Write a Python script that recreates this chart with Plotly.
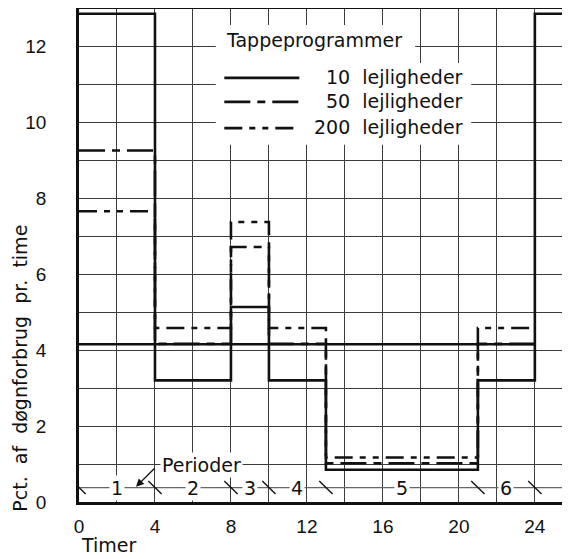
import plotly.graph_objects as go

# ---- data ----
period_bounds = [0, 4, 8, 10, 13, 21, 24]
period_labels = ["1", "2", "3", "4", "5", "6"]
vals_10 = [12.85, 3.2, 5.13, 3.2, 0.85, 3.2]
vals_50 = [9.25, 4.16, 6.71, 4.16, 1.02, 4.16]
vals_200 = [7.65, 4.58, 7.37, 4.58, 1.17, 4.58]
next_day_10 = 12.85          # level after hour 24 (start of next day)
mean_level = 4.15            # horizontal reference line across the day
series_names = ["10 lejligheder", "50 lejligheder", "200 lejligheder"]
x_ticks = [0, 4, 8, 12, 16, 20, 24]
y_ticks = [0, 2, 4, 6, 8, 10, 12]

X_MAX = 25.85
Y_MAX = 13.0
INK = "#111111"
GRID = "#3c3c3c"
TXT = "DejaVu Sans"
NUM = "Liberation Sans"
DASH = {
    "10 lejligheder": "solid",
    "50 lejligheder": "26px,7px,8px,7px",
    "200 lejligheder": "18px,7px,6px,7px,6px,7px",
}

fig = go.Figure()

def step_xy(vals, extra=None):
    xs = list(period_bounds)
    ys = list(vals) + [vals[-1]]
    if extra is not None:
        ys[-1] = extra
        xs = xs + [X_MAX]
        ys = ys + [extra]
    return xs, ys

# mean line
fig.add_trace(go.Scatter(x=[period_bounds[0], period_bounds[-1]], y=[mean_level, mean_level],
                         mode="lines", line=dict(color=INK, width=2.4), showlegend=False,
                         hoverinfo="skip"))

for name, vals in [(series_names[2], vals_200), (series_names[1], vals_50)]:
    xs, ys = step_xy(vals)
    fig.add_trace(go.Scatter(x=xs, y=ys, mode="lines", line_shape="hv", name=name,
                             line=dict(color=INK, width=2.6, dash=DASH[name]), showlegend=False))

xs, ys = step_xy(vals_10, extra=next_day_10)
fig.add_trace(go.Scatter(x=xs, y=ys, mode="lines", line_shape="hv", name=series_names[0],
                         line=dict(color=INK, width=2.6), showlegend=False))

shapes = []
annotations = []

# legend white box (covers gridlines)
shapes.append(dict(type="rect", xref="x", yref="y", x0=7.2, x1=17.7, y0=11.5, y1=12.55,
                   fillcolor="white", line=dict(width=0), layer="between"))
shapes.append(dict(type="rect", xref="x", yref="y", x0=7.2, x1=20.65, y0=9.4, y1=11.55,
                   fillcolor="white", line=dict(width=0), layer="between"))

annotations.append(dict(x=12.35, y=12.16, xref="x", yref="y", text="Tappeprogrammer",
                        showarrow=False, font=dict(family=TXT, size=19, color=INK)))
leg_y = [11.16, 10.53, 9.84]
for name, ly in zip(series_names, leg_y):
    shapes.append(dict(type="line", xref="x", yref="y", x0=7.65, x1=11.6, y0=ly, y1=ly,
                       line=dict(color=INK, width=2.6, dash=DASH[name]), layer="above"))
    num, word = name.split(" ")
    annotations.append(dict(x=20.3, y=ly + 0.02, xref="x", yref="y", xanchor="right",
                            text=num + "\u00a0 " + word, showarrow=False,
                            font=dict(family=TXT, size=19, color=INK)))

# period band
band_y = 0.38
shapes.append(dict(type="line", xref="x", yref="y", x0=0, x1=X_MAX, y0=band_y, y1=band_y,
                   line=dict(color="#666666", width=1.2), layer="between"))
for b in period_bounds:
    shapes.append(dict(type="line", xref="x", yref="y", x0=b - 0.35, x1=b + 0.35,
                       y0=band_y + 0.17, y1=band_y - 0.17,
                       line=dict(color=INK, width=1.4), layer="above"))
for i, lab in enumerate(period_labels):
    cx = (period_bounds[i] + period_bounds[i + 1]) / 2
    annotations.append(dict(x=cx, y=band_y, xref="x", yref="y", text=lab, showarrow=False,
                            bgcolor="white", borderpad=1,
                            font=dict(family=TXT, size=19, color=INK)))

annotations.append(dict(x=6.45, y=0.98, xref="x", yref="y", text="Perioder", showarrow=False,
                        bgcolor="white", borderpad=1,
                        font=dict(family=TXT, size=19, color=INK)))
annotations.append(dict(x=3.0, y=0.4, ax=4.05, ay=0.92, xref="x", yref="y", axref="x", ayref="y",
                        text="", showarrow=True, arrowhead=2, arrowsize=1.2, arrowwidth=1.3,
                        arrowcolor=INK))

# axis titles
annotations.append(dict(x=0, y=-0.1134, xref="paper", yref="paper", xanchor="left", yanchor="bottom",
                        text="Timer", showarrow=False, font=dict(family=TXT, size=19, color=INK)))
annotations.append(dict(x=-0.12, y=0.27, xref="paper", yref="paper", xanchor="center",
                        yanchor="middle", textangle=-90,
                        text="Pct.\u00a0 af\u00a0 døgnforbrug\u00a0 pr.\u00a0 time", showarrow=False,
                        font=dict(family=TXT, size=19, color=INK)))

# the page body has an 8px default margin, so the figure is 8px smaller than the window
fig.update_layout(
    width=562, height=551,
    margin=dict(l=71, r=0, t=0, b=57, autoexpand=False),
    paper_bgcolor="white", plot_bgcolor="white",
    showlegend=False,
    shapes=shapes, annotations=annotations,
    xaxis=dict(range=[0, X_MAX], tickvals=x_ticks, ticks="outside", ticklen=5,
               tickcolor="rgba(0,0,0,0)",
               showgrid=True, gridcolor=GRID, gridwidth=1.3, automargin=False,
               minor=dict(dtick=2, tick0=0, showgrid=True, gridcolor=GRID, gridwidth=1.3),
               showline=True, linecolor=INK, linewidth=2.5, mirror=False, zeroline=False,
               tickfont=dict(family=NUM, size=19, color=INK)),
    yaxis=dict(range=[0, Y_MAX], tickvals=y_ticks, ticks="outside", ticklen=26,
               tickcolor="rgba(0,0,0,0)",
               showgrid=True, gridcolor=GRID, gridwidth=1.3, automargin=False,
               minor=dict(dtick=1, tick0=0, showgrid=True, gridcolor=GRID, gridwidth=1.3),
               showline=True, linecolor=INK, linewidth=2.5, mirror=False, zeroline=False,
               tickfont=dict(family=NUM, size=19, color=INK)),
)
# top frame line
fig.add_shape(type="line", xref="paper", yref="paper", x0=0, x1=1, y0=1, y1=1,
              line=dict(color=INK, width=2.2), layer="above")

fig.write_html("out.html")
